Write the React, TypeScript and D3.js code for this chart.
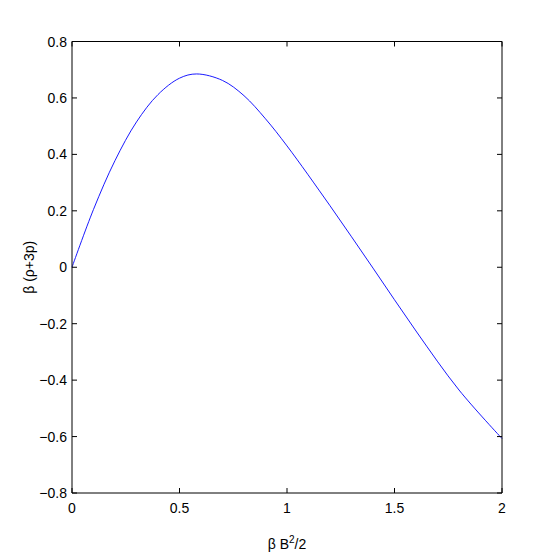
import React from "react";
import * as d3 from "d3";

const xValues = [0, 0.1, 0.2, 0.3, 0.4, 0.5, 0.58, 0.7, 0.8, 0.9, 1.0, 1.2, 1.4, 1.6, 1.8, 2.0];
const yValues = [0, 0.205, 0.378, 0.515, 0.612, 0.67, 0.685, 0.662, 0.608, 0.526, 0.43, 0.218, -0.003, -0.226, -0.435, -0.607];
const xTicks = [0, 0.5, 1, 1.5, 2];
const yTicks = [-0.8, -0.6, -0.4, -0.2, 0, 0.2, 0.4, 0.6, 0.8];

const W = 554;
const H = 554;
const L = 72, R = 502, T = 41.5, B = 493;
const FONT = "'Liberation Sans', Arial, Helvetica, sans-serif";

export default function App() {
  const x = d3.scaleLinear().domain([0, 2]).range([L, R]);
  const y = d3.scaleLinear().domain([-0.8, 0.8]).range([B, T]);
  const pts: [number, number][] = xValues.map((v, i) => [v, yValues[i]]);
  const line = d3
    .line<[number, number]>()
    .x((d) => x(d[0]))
    .y((d) => y(d[1]))
    .curve(d3.curveCatmullRom.alpha(0.5));
  const fmt = (v: number) => (v < 0 ? "\u2212" : "") + d3.format("")(Math.abs(v));
  const tl = 5;
  return (
    <svg width={W} height={H} style={{ position: "absolute", left: 0, top: 0, background: "#fff" }} fontFamily={FONT}>
      <rect x={0} y={0} width={W} height={H} fill="#fff" />
      <path d={line(pts) || ""} fill="none" stroke="#0000ff" strokeWidth={0.9} />
      <line x1={L} x2={R} y1={T} y2={T} stroke="#000" strokeWidth={1} />
      <line x1={R} x2={R} y1={T} y2={B} stroke="#000" strokeWidth={1} />
      <line x1={L} x2={L} y1={T} y2={B} stroke="#000" strokeWidth={1} />
      <line x1={L} x2={R} y1={B} y2={B} stroke="#000" strokeWidth={1} />
      {yTicks.map((t) => (
        <g key={"y" + t}>
          <line x1={L} x2={L + tl} y1={y(t)} y2={y(t)} stroke="#000" strokeWidth={1} />
          <line x1={R - tl} x2={R} y1={y(t)} y2={y(t)} stroke="#000" strokeWidth={1} />
          <text x={L - 5} y={y(t) + 5} fontSize={14} textAnchor="end" fill="#000">
            {fmt(t)}
          </text>
        </g>
      ))}
      {xTicks.map((t) => (
        <g key={"x" + t}>
          <line x1={x(t)} x2={x(t)} y1={B} y2={B - tl} stroke="#000" strokeWidth={1} />
          <line x1={x(t)} x2={x(t)} y1={T} y2={T + tl} stroke="#000" strokeWidth={1} />
          <text x={x(t)} y={513} fontSize={14} textAnchor="middle" fill="#000">
            {fmt(t)}
          </text>
        </g>
      ))}
      <text x={(L + R) / 2} y={549} fontSize={14} textAnchor="middle" fill="#000">
        β B<tspan dy={-6} fontSize={10}>2</tspan>
        <tspan dy={6}>/2</tspan>
      </text>
      <text transform={`translate(33.5,${(T + B) / 2}) rotate(-90)`} fontSize={14} textAnchor="middle" fill="#000">
        β (ρ+3p)
      </text>
    </svg>
  );
}
